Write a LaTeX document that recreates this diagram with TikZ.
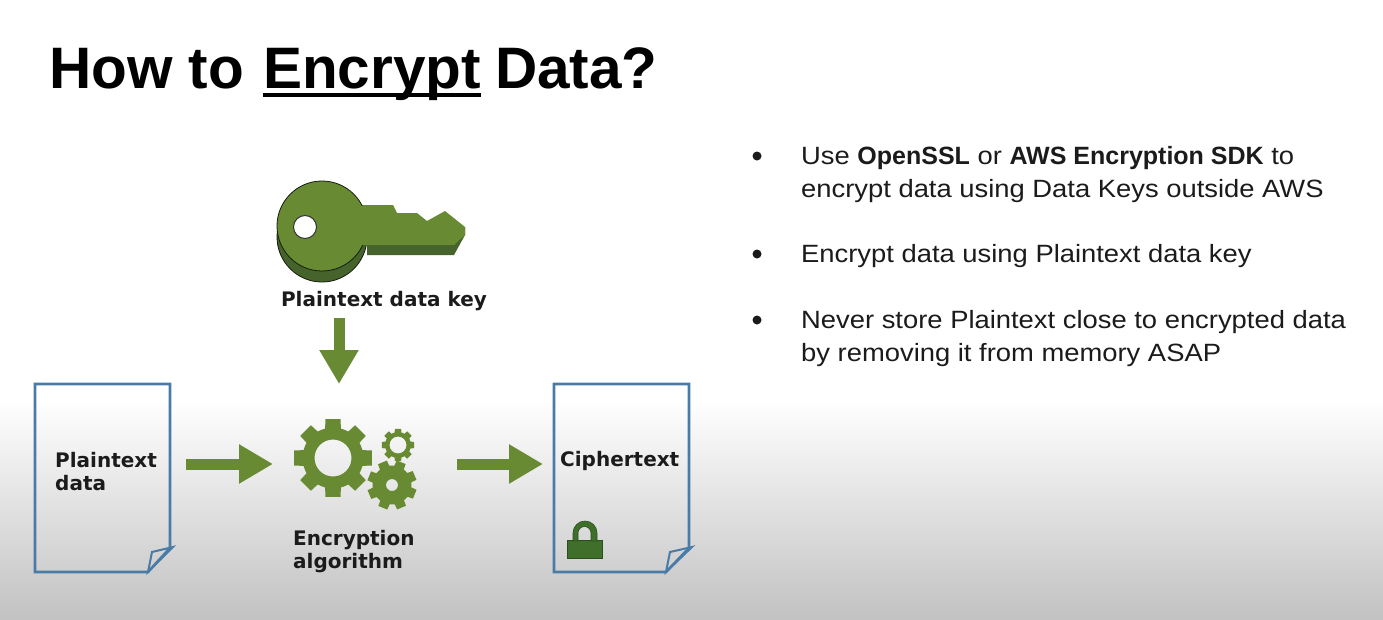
\documentclass[tikz,border=0pt]{standalone}
\usepackage{fontspec}
\setmainfont[FakeStretch=1.095]{Liberation Sans}
\newfontfamily\bodyb{Liberation Sans}
\newfontfamily\diagfont{DejaVu Sans}
\usetikzlibrary{arrows.meta}
\definecolor{leaf}{HTML}{688A33}
\definecolor{leafdark}{HTML}{45632B}
\definecolor{lockgreen}{HTML}{3F6F2A}
\definecolor{docblue}{HTML}{4A7BA6}
\definecolor{ink}{HTML}{1B1B1B}
\tikzset{
  bigarrow/.style={-{Triangle[length=34pt,width=37pt]},line width=11pt,draw=leaf},
  doc/.style={draw=docblue,line width=2.6pt,line join=miter},
  fold/.style={draw=docblue,line width=2pt,fill=none},
  label/.style={font=\diagfont\bfseries\fontsize{20}{23}\selectfont,text=ink,inner sep=0pt,align=left},
  bodytext/.style={font=\fontsize{25}{30}\selectfont,text=ink,inner sep=0pt,anchor=base west},
  bulletdot/.style={circle,fill=ink,inner sep=0pt,minimum size=9pt},
  title/.style={font=\bodyb\bfseries\fontsize{58.5}{70}\selectfont,text=black,inner sep=0pt,anchor=base west}
}
% centre x, centre y, outer, root, hole, phase
\newcommand{\cog}[6]{%
  \fill[leaf,even odd rule,shift={(#1,#2)}]
    (#6-15:#4)
    \foreach \k in {0,...,7}{
      -- ({#6+\k*45-15}:#4) -- ({#6+\k*45-11}:#3) -- ({#6+\k*45+11}:#3) -- ({#6+\k*45+15}:#4)
      arc[start angle={#6+\k*45+15},end angle={#6+\k*45+30},radius=#4]
    } -- cycle
    (0,0) circle[radius=#5];
}
\begin{document}
\begin{tikzpicture}[x=1pt,y=-1pt]
\useasboundingbox (0,0) rectangle (1383,619);
\fill[white] (0,0) rectangle (1383,400);
\shade[top color=white,bottom color=black!24] (0,400) rectangle (1383,619);

% title
\node[title] (head1) at (49,88) {How to};
\node[title] (head2) at (263,88) {Encrypt};
\node[title] (head3) at (495,88) {Data?};
\draw[line width=4pt,black] (263,95) -- (481,95);

% bullets
\node[bulletdot] (b1) at (757,156) {};
\node[bodytext] (t1a) at (801,164) {Use {\bodyb\bfseries OpenSSL} or {\bodyb\bfseries AWS Encryption SDK} to};
\node[bodytext] (t1b) at (801,197) {encrypt data using Data Keys outside AWS};
\node[bulletdot] (b2) at (757,254) {};
\node[bodytext] (t2a) at (801,262) {Encrypt data using Plaintext data key};
\node[bulletdot] (b3) at (757,320) {};
\node[bodytext] (t3a) at (801,328) {Never store Plaintext close to encrypted data};
\node[bodytext] (t3b) at (801,361) {by removing it from memory ASAP};

% key
\fill[leafdark,draw=black!70!leafdark,line width=.8pt] (322,237) circle[radius=45];
\fill[leafdark] (367,225) -- (454,245) -- (465,227) -- (465,235) -- (454,255) -- (367,255) -- cycle;
\fill[leaf] (360,205) -- (393,205) -- (397,213) -- (417,213) -- (427,221) -- (445,211) -- (465,227) -- (465,235) -- (454,245) -- (360,245) -- cycle;
\fill[leaf,draw=black!70!leafdark,line width=.8pt] (322,226) circle[radius=45];
\fill[leaf] (355,205.5) rectangle (372,245);
\fill[white,draw=black!80,line width=1pt] (305,227) circle[radius=11.5];
\node[label] (keylabel) at (384,301) {Plaintext data key};

% documents
\draw[doc] (35,384) -- (170,384) -- (170,548) -- (148,572) -- (35,572) -- cycle;
\draw[fold] (173,547) -- (152,552) -- (148,572) -- cycle;
\node[label,anchor=west] (plain) at (55,472) {Plaintext\\data};
\draw[doc] (554,384) -- (689,384) -- (689,548) -- (666,572) -- (554,572) -- cycle;
\draw[fold] (692,547) -- (670,552) -- (666,572) -- cycle;
\node[label,anchor=west] (cipher) at (560,461) {Ciphertext};

% lock
\draw[lockgreen!70!black,line width=1pt,fill=lockgreen] (567,540) rectangle (602,558);
\fill[lockgreen,even odd rule,draw=lockgreen!70!black,line width=.6pt] (573,541) -- (573,533) arc[start angle=180,end angle=360,radius=12] -- (597,541) -- (591,541) -- (591,533) arc[start angle=360,end angle=180,radius=6.5] -- (578,541) -- cycle;

% gears
\cog{333}{458}{39.5}{30.5}{18.5}{0}
\cog{398}{445}{16.5}{13}{8.5}{0}
\cog{392}{485}{25}{19.5}{6}{22}
\node[label,anchor=west] (algo) at (293,551.5) {Encryption\\algorithm};

% arrows
\coordinate (a1s) at (186,464);
\coordinate (a1e) at (273,464);
\coordinate (a2s) at (457,464);
\coordinate (a2e) at (543,464);
\coordinate (a3s) at (339,318);
\coordinate (a3e) at (339,384);
\draw[bigarrow] (a1s) -- (a1e);
\draw[bigarrow] (a2s) -- (a2e);
\draw[bigarrow] (a3s) -- (a3e);
\end{tikzpicture}
\end{document}
